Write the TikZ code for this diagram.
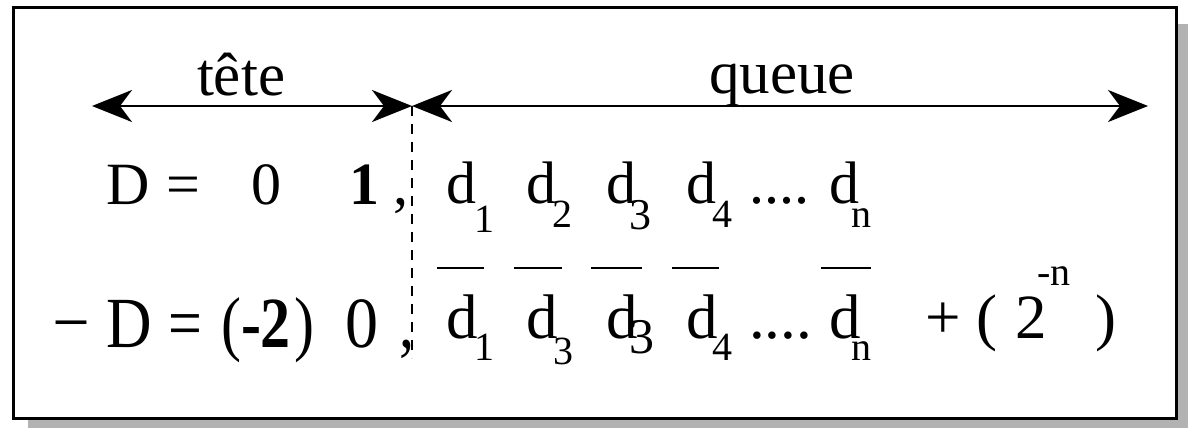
\documentclass[tikz,border=0pt]{standalone}
\usepackage{fontspec}
\setmainfont{Liberation Serif}
\usetikzlibrary{arrows.meta}
\begin{document}
\begin{tikzpicture}[x=1pt,y=-1pt,
  txt/.style={inner sep=0pt, outer sep=0pt, anchor=base west},
  big/.style={txt, font=\fontsize{60}{60}\selectfont},
  bigb/.style={txt, font=\fontsize{63}{63}\selectfont},
  sub/.style={txt, font=\fontsize{40}{40}\selectfont},
  head/.style={txt, font=\fontsize{61}{61}\selectfont},
  dimarrow/.style={line width=2.5pt, {Stealth[length=40pt,width=32pt,inset=12pt]}-{Stealth[length=40pt,width=32pt,inset=12pt]}},
  overbar/.style={line width=2.5pt},
  sep/.style={line width=2pt, dash pattern=on 10pt off 8pt}
]
\useasboundingbox (0,0) rectangle (1188,428);
% frame with shadow
\fill[black!30] (28,24) rectangle (1195,440);
\draw[line width=3pt, fill=white] (13,8) rectangle (1176,418);

% arrows
\coordinate (tl) at (92,106);
\coordinate (mid) at (412,106);
\coordinate (tr) at (1148,106);
\coordinate (sepend) at (412,358);
\draw[dimarrow] (tl) -- (mid);
\draw[dimarrow] (mid) -- (tr);
\draw[sep] (mid) -- (sepend);

% headers
\node[head] (tete) at (197,95) {tête};
\node[head] (queue) at (709,93) {queue};

% row 1
\node[big] (r1D) at (106,204) {D};
\node[big] (r1eq) at (166,204) {=};
\node[big] (r1zero) at (251,204) {0};
\node[big] (r1one) at (349,204) {\textbf{1}};
\node[big] (r1comma) at (393,204) {,};
\node[big] (r1d1) at (446,203) {d};
\node[sub] (r1s1) at (474,232) {1};
\node[big] (r1d2) at (526,203) {d};
\node[sub] (r1s2) at (552,227) {2};
\node[big] (r1d3) at (606,203) {d};
\node[sub, font=\fontsize{44}{44}\selectfont] (r1s3) at (629,229) {3};
\node[big] (r1d4) at (686,203) {d};
\node[sub] (r1s4) at (712,227) {4};
\node[big] (r1dots) at (749,203) {....};
\node[big] (r1dn) at (829,203) {d};
\node[sub] (r1sn) at (851,227) {n};

% row 2
\node[big] (r2minus) at (56,339) {\scalebox{1}[1.2]{–}};
\node[big] (r2D) at (106,347) {\scalebox{1.05}[1.2]{D}};
\node[big] (r2eq) at (168,347) {\scalebox{1}[1.2]{=}};
\node[big] (r2lp) at (221,347) {\scalebox{1}[1.2]{(}};
\node[big] (r2m2) at (241,347) {\scalebox{1}[1.2]{\textbf{-2}}};
\node[big] (r2rp) at (294,347) {\scalebox{1}[1.2]{)}};
\node[big] (r2zero) at (345,347) {\scalebox{1.1}[1.2]{0}};
\node[big] (r2comma) at (399,347) {\scalebox{1}[1.2]{,}};
\node[bigb] (r2d1) at (446,338) {d};
\node[sub] (r2s1) at (474,360) {1};
\node[bigb] (r2d2) at (526,338) {d};
\node[sub] (r2s2) at (553,364) {3};
\node[bigb] (r2d3) at (606,338) {d};
\node[sub, font=\fontsize{50}{50}\selectfont] (r2s3) at (629,353) {3};
\node[bigb] (r2d4) at (686,338) {d};
\node[sub] (r2s4) at (712,360) {4};
\node[bigb] (r2dots) at (749,338) {....};
\node[bigb] (r2dn) at (829,338) {d};
\node[sub] (r2sn) at (851,360) {n};
\draw[overbar] (437,268) -- (484,268);
\draw[overbar] (514,268) -- (562,268);
\draw[overbar] (591,268) -- (642,268);
\draw[overbar] (672,268) -- (719,268);
\draw[overbar] (821,268) -- (871,268);
\node[bigb] (plus) at (925,338) {+};
\node[bigb] (lp) at (976,338) {(};
\node[bigb] (two) at (1015,338) {2};
\node[sub] (exp) at (1037,285) {-n};
\node[bigb] (rp) at (1095,338) {)};
\end{tikzpicture}
\end{document}
